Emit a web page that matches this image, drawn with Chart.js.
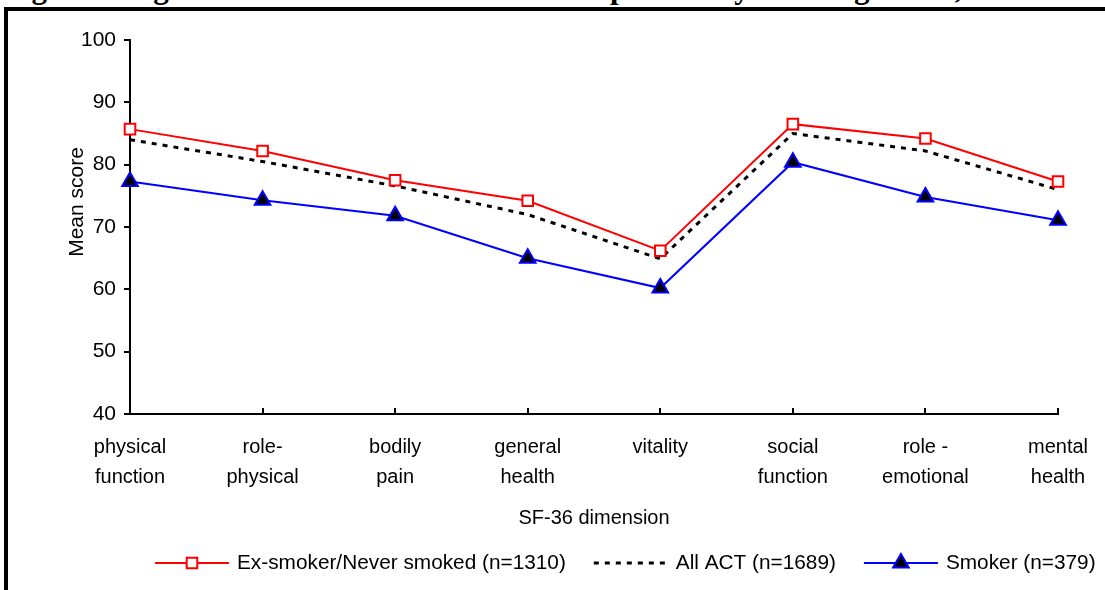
<!DOCTYPE html>
<html>
<head>
<meta charset="utf-8">
<script src="https://cdn.jsdelivr.net/npm/chart.js@4.4.1/dist/chart.umd.min.js"></script>
<style>
    html, body { margin: 0; padding: 0; background: #fff; }
    body { width: 1105px; height: 590px; position: relative; overflow: hidden; }
    #caption {
        position: absolute; left: 4px; top: -28px;
        font: bold 31px "Liberation Serif", "Times New Roman", serif;
        line-height: 31px; white-space: nowrap; color: #000;
    }
    #frame {
        position: absolute; left: 4px; top: 7px; width: 1200px; height: 700px;
        border-left: 4px solid #000; border-top: 4px solid #000;
    }
    #wrap { position: absolute; left: 0; top: 0; width: 1105px; height: 590px; }
</style>
</head>
<body>
<div id="caption">Figure 5: Age standardised SF-36 mean score profiles by smoking status, ACT 2000</div>
<div id="frame"></div>
<div id="wrap"><canvas id="sfChart" width="1105" height="590"></canvas></div>
<script>
// SF-36 dimensions (two-line labels)
const dimensions = [
    ['physical', 'function'],
    ['role-', 'physical'],
    ['bodily', 'pain'],
    ['general', 'health'],
    ['vitality'],
    ['social', 'function'],
    ['role -', 'emotional'],
    ['mental', 'health']
];

// Mean scores
const exOrNeverSmoked = [85.7, 82.2, 77.5, 74.2, 66.2, 86.5, 84.2, 77.3];
const allAct = [84.0, 80.5, 76.6, 72.0, 64.9, 85.0, 82.2, 76.0];
const smoker = [77.3, 74.3, 71.8, 65.0, 60.2, 80.4, 74.8, 71.1];

const seriesNames = ['Ex-smoker/Never smoked (n=1310)', 'All ACT (n=1689)', 'Smoker (n=379)'];
const yTickValues = [40, 50, 60, 70, 80, 90, 100];

const FONT = '"Liberation Sans", Arial, sans-serif';
Chart.defaults.font.family = FONT;
Chart.defaults.color = '#000';

// Small inward tick marks on the category axis
const xTickMarks = {
    id: 'xTickMarks',
    afterDraw(chart) {
        const ctx = chart.ctx;
        const xs = chart.scales.x;
        const bottom = chart.chartArea.bottom;
        ctx.save();
        ctx.strokeStyle = '#000';
        ctx.lineWidth = 2;
        xs.ticks.forEach((t, i) => {
            const px = Math.round(xs.getPixelForTick(i));
            ctx.beginPath();
            ctx.moveTo(px, bottom);
            ctx.lineTo(px, bottom - 6);
            ctx.stroke();
        });
        ctx.restore();
    }
};

// Rotated y axis title, sitting a little above the middle like the original
const yTitle = {
    id: 'yTitle',
    afterDraw(chart) {
        const ctx = chart.ctx;
        ctx.save();
        ctx.translate(77, 202);
        ctx.rotate(-Math.PI / 2);
        ctx.font = '21px ' + FONT;
        ctx.fillStyle = '#000';
        ctx.textAlign = 'center';
        ctx.textBaseline = 'middle';
        ctx.fillText('Mean score', 0, 0);
        ctx.restore();
    }
};

// Legend with a line sample and the marker in the middle
const sampleLegend = {
    id: 'sampleLegend',
    afterDraw(chart) {
        const ctx = chart.ctx;
        const y = 563;
        const sampleLen = 74;
        let x = 155;
        ctx.save();
        ctx.font = '20.8px ' + FONT;
        ctx.textBaseline = 'middle';
        chart.data.datasets.forEach(ds => {
            ctx.beginPath();
            ctx.setLineDash(ds.borderDash || []);
            ctx.lineWidth = ds.borderWidth;
            ctx.strokeStyle = ds.borderColor;
            ctx.moveTo(x, y);
            ctx.lineTo(x + sampleLen, y);
            ctx.stroke();
            ctx.setLineDash([]);
            if (ds.pointRadius > 0) {
                ctx.fillStyle = ds.pointBackgroundColor;
                ctx.strokeStyle = ds.pointBorderColor;
                ctx.lineWidth = ds.pointBorderWidth;
                Chart.helpers.drawPoint(ctx, {
                    pointStyle: ds.pointStyle,
                    radius: ds.pointRadius,
                    borderWidth: ds.pointBorderWidth,
                    rotation: 0
                }, x + sampleLen / 2, y);
            }
            x += sampleLen + 8;
            ctx.fillStyle = '#000';
            ctx.fillText(ds.label, x, y);
            x += ctx.measureText(ds.label).width + 28;
        });
        ctx.restore();
    }
};

new Chart(document.getElementById('sfChart'), {
    type: 'line',
    data: {
        labels: dimensions,
        datasets: [{
            label: seriesNames[0],
            data: exOrNeverSmoked,
            borderColor: '#ff0000',
            borderWidth: 2,
            pointStyle: 'rect',
            pointRadius: 7.5,
            pointBackgroundColor: '#ffffff',
            pointBorderColor: '#ff0000',
            pointBorderWidth: 2
        }, {
            label: seriesNames[1],
            data: allAct,
            borderColor: '#000000',
            borderWidth: 3,
            borderDash: [5, 6],
            pointRadius: 0
        }, {
            label: seriesNames[2],
            data: smoker,
            borderColor: '#0000ff',
            borderWidth: 2,
            pointStyle: 'triangle',
            pointRadius: 9,
            pointBackgroundColor: '#000000',
            pointBorderColor: '#0000ff',
            pointBorderWidth: 2
        }]
    },
    options: {
        responsive: false,
        animation: false,
        layout: { padding: { left: 0, right: 47, top: 40, bottom: 55 } },
        elements: { line: { tension: 0 } },
        plugins: {
            legend: { display: false },
            tooltip: { enabled: false }
        },
        scales: {
            x: {
                type: 'category',
                offset: false,
                grid: { drawOnChartArea: false, drawTicks: false },
                border: { color: '#000', width: 2 },
                ticks: {
                    padding: 18,
                    maxRotation: 0,
                    autoSkip: false,
                    font: { size: 20, lineHeight: 1.5 },
                    color: '#000'
                },
                title: {
                    display: true,
                    text: 'SF-36 dimension',
                    font: { size: 20 },
                    color: '#000',
                    padding: { top: 0, bottom: 5 }
                },
                afterFit(scale) {
                    scale.height = 121;
                    scale.paddingLeft = 0;
                    scale.paddingRight = 0;
                }
            },
            y: {
                min: 40,
                max: 100,
                afterBuildTicks(scale) {
                    scale.ticks = yTickValues.map(v => ({ value: v }));
                },
                ticks: { padding: 8, font: { size: 21 }, color: '#000' },
                grid: { drawOnChartArea: false, drawTicks: true, tickLength: 6, color: '#000', lineWidth: 2 },
                border: { color: '#000', width: 2 },
                afterFit(scale) {
                    scale.width = 130;
                    scale.paddingTop = 0;
                    scale.paddingBottom = 0;
                }
            }
        }
    },
    plugins: [xTickMarks, yTitle, sampleLegend]
});
</script>
</body>
</html>
